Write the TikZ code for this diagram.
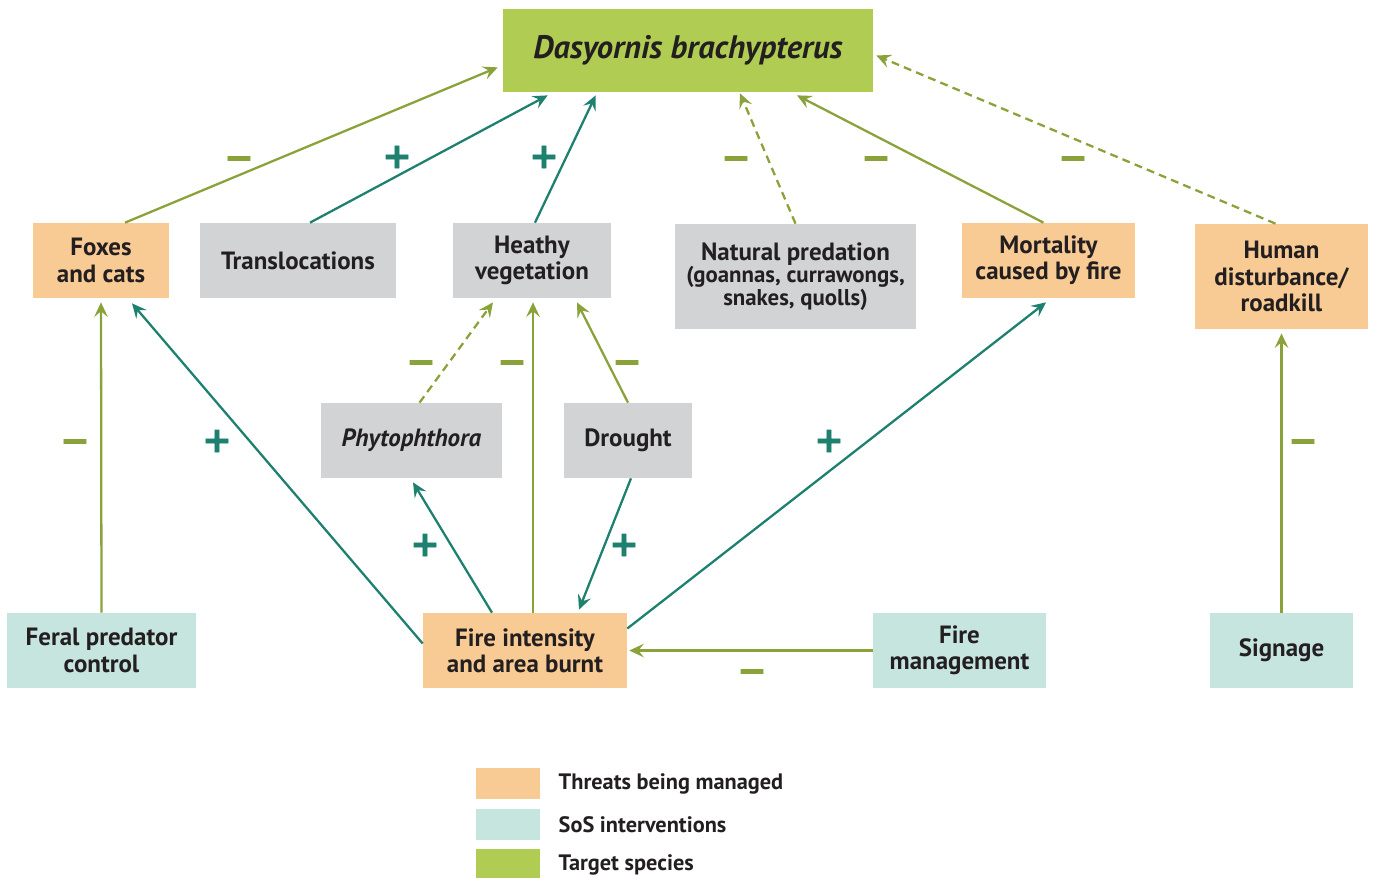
\documentclass[tikz,border=0pt]{standalone}
\usepackage{fontspec}
\setmainfont{PT Sans}
\newfontfamily\signfont[FakeBold=2.5]{DejaVu Sans}
\usetikzlibrary{arrows.meta,positioning,calc}
\definecolor{ink}{RGB}{35,31,32}
\definecolor{targetfill}{RGB}{176,204,82}
\definecolor{threatfill}{RGB}{248,202,148}
\definecolor{actionfill}{RGB}{198,229,222}
\definecolor{factorfill}{RGB}{209,211,212}
\definecolor{tealarrow}{RGB}{30,128,110}
\definecolor{olivearrow}{RGB}{138,162,58}

\begin{document}
\begin{tikzpicture}[
    x=0.02cm, y=-0.02cm,
    box/.style={
      rectangle, inner sep=0pt, align=center, text=ink,
      font=\bfseries\fontsize{14.2}{15}\selectfont
    },
    threat/.style={box, fill=threatfill},
    factor/.style={box, fill=factorfill},
    action/.style={box, fill=actionfill},
    species/.style={box, fill=targetfill, font=\bfseries\itshape\fontsize{18.5}{20}\selectfont},
    boost/.style={-{Stealth[length=2.9mm, width=2.7mm, inset=1.1mm]}, line width=1.3pt, draw=tealarrow},
    harm/.style={boost, draw=olivearrow},
    weak/.style={dash pattern=on 4.5pt off 3pt},
    plussign/.style={font=\signfont\bfseries\fontsize{20}{20}\selectfont, text=tealarrow, inner sep=0pt},
    minussign/.style={plussign, text=olivearrow, yshift=-0.1cm},
    keybox/.style={rectangle, minimum width=1.28cm, minimum height=0.62cm, inner sep=0pt},
    keytext/.style={font=\bfseries\fontsize{12.7}{14}\selectfont, text=ink, inner sep=0pt},
    node distance=0.18cm
  ]
  \useasboundingbox (0,0) rectangle (1373,877);

  \node[species, minimum width=7.4cm, minimum height=1.66cm] (tgt) at (688,50.5) {Dasyornis brachypterus};

  \node[threat, minimum width=2.72cm, minimum height=1.5cm] (fox)   at (101,260.5)   {Foxes\\and cats};
  \node[factor, minimum width=3.92cm, minimum height=1.5cm] (trans) at (298,260.5)   {Translocations};
  \node[factor, minimum width=3.16cm, minimum height=1.5cm] (veg)   at (532,260.5)   {Heathy\\vegetation};
  \node[factor, minimum width=4.82cm, minimum height=2.1cm,
        font=\bfseries\fontsize{14.2}{13}\selectfont]           (pred)  at (795.5,276.5) {Natural predation\\{\fontsize{13}{13}\selectfont (goannas, currawongs,}\\{\fontsize{13}{13}\selectfont snakes, quolls)}};
  \node[threat, minimum width=3.46cm, minimum height=1.5cm] (mort)  at (1048.5,260.5) {Mortality\\caused by fire};
  \node[threat, minimum width=3.46cm, minimum height=2.1cm] (hum)   at (1281.5,276.5) {Human\\disturbance/\\roadkill};

  \node[factor, minimum width=3.62cm, minimum height=1.5cm] (phy)   at (411.5,440.5) {\textit{Phytophthora}};
  \node[factor, minimum width=2.56cm, minimum height=1.5cm] (dro)   at (628,440.5)   {Drought};

  \node[action, minimum width=3.78cm, minimum height=1.5cm] (feral) at (101.5,650.5) {Feral predator\\control};
  \node[threat, minimum width=4.08cm, minimum height=1.5cm] (fire)  at (525,650.5)   {Fire intensity\\and area burnt};
  \node[action, minimum width=3.46cm, minimum height=1.5cm] (fman)  at (959.5,650.5) {Fire\\management};
  \node[action, minimum width=2.86cm, minimum height=1.5cm] (sig)   at (1281.5,650.5) {Signage};

  \draw[harm]       ($(fox.north)+(24,0)$)    -- ($(tgt.south west)+(-5,-25)$);
  \draw[boost]      ($(trans.north)+(12,0)$)  -- ($(tgt.south west)+(45,3)$);
  \draw[boost]      ($(veg.north)+(3,0)$)     -- ($(tgt.south west)+(93,3)$);
  \draw[harm, weak] (pred.north)              -- ($(tgt.south)+(52,1)$);
  \draw[harm]       ($(mort.north)+(-5,0)$)   -- ($(tgt.south)+(109,3)$);
  \draw[harm, weak] ($(hum.north)+(-6,0)$)    -- ($(tgt.east)+(3,5)$);

  \draw[harm]       (feral.north)             -- ($(fox.south)+(0,4)$);
  \draw[boost]      ($(fire.west)+(0,-7)$)    -- ($(fox.south)+(31,5)$);
  \draw[harm, weak] ($(phy.north)+(8,0)$)     -- ($(veg.south)+(-39,4)$);
  \draw[harm]       ($(fire.north)+(8,0)$)    -- ($(veg.south)+(1,4)$);
  \draw[harm]       (dro.north)               -- ($(veg.south)+(45,4)$);
  \draw[boost]      ($(fire.north)+(-33,0)$)  -- ($(phy.south)+(1.5,4)$);
  \draw[boost]      ($(dro.south)+(3,0)$)     -- ($(fire.north)+(54,-3)$);
  \draw[boost]      ($(fire.east)+(0,-22)$)   -- ($(mort.south)+(-2.5,4)$);
  \draw[harm]       (fman.west)               -- ($(fire.east)+(2,0)$);
  \draw[harm]       (sig.north)               -- ($(hum.south)+(0,4)$);

  \node[minussign] (m1) at (239,158)  {−};
  \node[plussign]  (p1) at (397,157)  {+};
  \node[plussign]  (p2) at (544,157)  {+};
  \node[minussign] (m2) at (736,158)  {−};
  \node[minussign] (m3) at (876,158)  {−};
  \node[minussign] (m4) at (1073,158) {−};
  \node[minussign] (m5) at (421,362)  {−};
  \node[minussign] (m6) at (512,362)  {−};
  \node[minussign] (m7) at (627,362)  {−};
  \node[minussign] (m8) at (75,441)   {−};
  \node[plussign]  (p3) at (217,441)  {+};
  \node[plussign]  (p4) at (829,441)  {+};
  \node[minussign] (m9) at (1303,441) {−};
  \node[plussign]  (p5) at (425,545)  {+};
  \node[plussign]  (p6) at (624,545)  {+};
  \node[minussign] (m10) at (752,671) {−};

  \node[keybox, fill=threatfill] (lg1) at (508,783.5) {};
  \node[keybox, fill=actionfill, below=of lg1] (lg2) {};
  \node[keybox, fill=targetfill, below=of lg2] (lg3) {};
  \node[keytext, right=0.36cm of lg1] (lt1) {Threats being managed};
  \node[keytext, right=0.36cm of lg2] (lt2) {SoS interventions};
  \node[keytext, right=0.36cm of lg3] (lt3) {Target species};
\end{tikzpicture}
\end{document}
